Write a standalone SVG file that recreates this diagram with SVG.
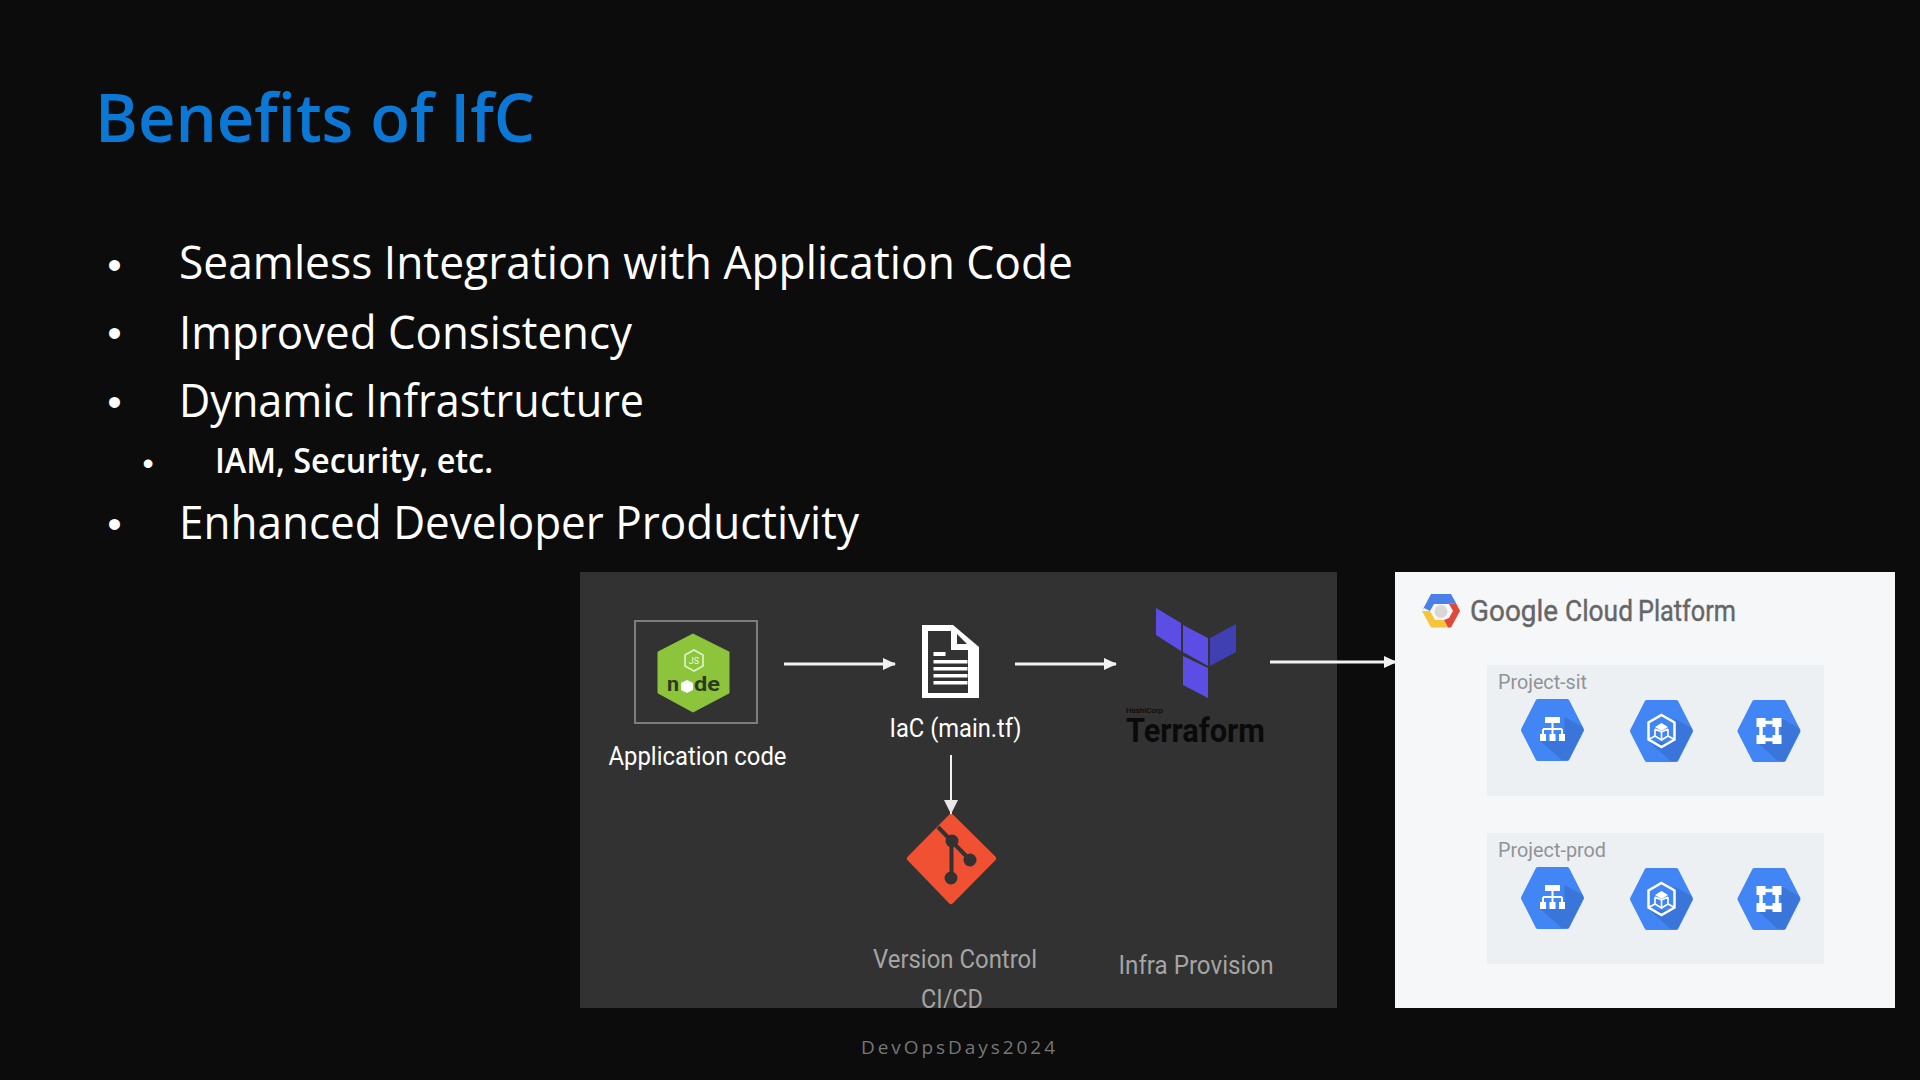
<svg xmlns="http://www.w3.org/2000/svg" xmlns:xlink="http://www.w3.org/1999/xlink" width="1920" height="1080" viewBox="0 0 1920 1080">
<style>
.sans{font-family:"Open Sans","Noto Sans",sans-serif}
.rb{font-family:Roboto,"Liberation Sans",sans-serif}
.bul{font-family:"Open Sans","Noto Sans",sans-serif;font-size:46px;fill:#fff}
.dot{font-family:"Liberation Sans",sans-serif;fill:#fff;text-anchor:middle}
.lab{font-family:Roboto,"Liberation Sans",sans-serif;font-size:25px;fill:#fff}
.gray{fill:#a4a4a4}
.conn{stroke:#f2f2f2;stroke-width:3;fill:none}
.proj{fill:#ecf0f3}
.plab{font-family:Roboto,"Liberation Sans",sans-serif;font-size:20px;fill:#919398}
.w{fill:#fff}
.ws{fill:none;stroke:#fff}
</style>
<defs>
<marker id="ah" markerUnits="userSpaceOnUse" markerWidth="14" markerHeight="14" refX="12" refY="7" orient="auto"><path d="M0 1 L13 7 L0 13 Z" fill="#f2f2f2"/></marker>
<marker id="ahd" markerUnits="userSpaceOnUse" markerWidth="14" markerHeight="16" refX="14" refY="7" orient="auto"><path d="M0 0 L14 7 L0 14 Z" fill="#e8e8e8"/></marker>
<clipPath id="panelClip"><rect x="580" y="572" width="757" height="436"/></clipPath>
<g id="hexBase">
<polygon points="-29,0 -14.5,-28.5 14.5,-28.5 29,0 14.5,28.5 -14.5,28.5" fill="#4285f4" stroke="#4285f4" stroke-width="5" stroke-linejoin="round"/>
<polygon points="12,-13 30,-3 31,0 16,30 9,30 -12,11 12,11" fill="#3a76d9"/>
</g>
<g id="iconTree">
<use xlink:href="#hexBase" href="#hexBase"/>
<rect class="w" x="-7.5" y="-13" width="15" height="6"/>
<path d="M0 -7V5M-9.5 -1H9.5M-9.5 -1V5M9.5 -1V5" class="ws" stroke-width="2"/>
<rect class="w" x="-12.5" y="4" width="6" height="7"/><rect class="w" x="-3" y="4" width="6" height="7"/><rect class="w" x="6.5" y="4" width="6" height="7"/>
</g>
<g id="iconCube">
<use xlink:href="#hexBase" href="#hexBase"/>
<polygon points="0,-16 13,-8.5 13,8.5 0,16 -13,8.5 -13,-8.5" class="ws" stroke-width="2.5"/>
<polygon class="w" points="0,-8 6.5,-4 0,0 -6.5,-4"/>
<path d="M-6.5 -2V5L0 9V1L-6.5 -2M6.5 -2V5L0 9M6.5 -2L0 1M-13 8.5L-6.5 5M13 8.5L6.5 5" class="ws" stroke-width="1.6"/>
</g>
<g id="iconNet">
<use xlink:href="#hexBase" href="#hexBase"/>
<path d="M-8 -8.5H8V8.5H-8Z" class="ws" stroke-width="3.5"/>
<rect class="w" x="-12.5" y="-13" width="9" height="9"/><rect class="w" x="3.5" y="-13" width="9" height="9"/><rect class="w" x="-12.5" y="4" width="9" height="9"/><rect class="w" x="3.5" y="4" width="9" height="9"/>
</g>
</defs>
<rect id="background" width="1920" height="1080" fill="#0c0c0c"/>
<g id="title"><text class="sans" x="95" y="142" font-size="67" font-weight="600" fill="#0a78d4" textLength="440" lengthAdjust="spacingAndGlyphs">Benefits of IfC</text></g>
<g id="bullets">
<text class="dot" x="114.5" y="279" font-size="40">•</text>
<text class="bul" x="179" y="279" textLength="894" lengthAdjust="spacingAndGlyphs">Seamless Integration with Application Code</text>
<text class="dot" x="114.5" y="347" font-size="40">•</text>
<text class="bul" x="179" y="349" textLength="453" lengthAdjust="spacingAndGlyphs">Improved Consistency</text>
<text class="dot" x="114.5" y="416" font-size="40">•</text>
<text class="bul" x="179" y="417" textLength="465" lengthAdjust="spacingAndGlyphs">Dynamic Infrastructure</text>
<text class="dot" x="148" y="474" font-size="32">•</text>
<text class="sans" x="215" y="473" font-size="35" font-weight="600" fill="#fff" textLength="278" lengthAdjust="spacingAndGlyphs">IAM, Security, etc.</text>
<text class="dot" x="114.5" y="538" font-size="40">•</text>
<text class="bul" x="179" y="539" textLength="680" lengthAdjust="spacingAndGlyphs">Enhanced Developer Productivity</text>
</g>
<rect id="pipelinePanel" x="580" y="572" width="757" height="436" fill="#323232"/>
<g id="gcpPanel">
<rect x="1395" y="572" width="500" height="436" fill="#f6f7f8"/>
<g id="gcpLogo">
<polygon points="1422,611 1431,594 1451,594 1456,603 1449,604 1434,604 1430,611 1424,608" fill="#4a80e8"/>
<polygon points="1422,611 1430,611 1435,620 1444,620 1448,627.5 1431,627.5" fill="#f8c43a"/>
<polygon points="1460,611 1451,627.5 1448,627.5 1444,620 1449,618 1453,611 1449,604 1456,603" fill="#dd4a3c"/>
<circle cx="1441" cy="611.5" r="6.5" fill="#d8d8d8"/>
<text class="rb" y="621" font-size="29" fill="#666" stroke="#666" stroke-width="0.4"><tspan x="1470" textLength="88" lengthAdjust="spacingAndGlyphs">Google</tspan><tspan x="1565" textLength="68" lengthAdjust="spacingAndGlyphs">Cloud</tspan><tspan x="1638" textLength="98" lengthAdjust="spacingAndGlyphs">Platform</tspan></text>
</g>
</g>
<g id="project-sit">
<rect class="proj" x="1487" y="665" width="337" height="131"/>
<text class="plab" x="1498" y="689" textLength="89" lengthAdjust="spacingAndGlyphs">Project-sit</text>
<use xlink:href="#iconTree" href="#iconTree" x="1552.5" y="730"/>
<use xlink:href="#iconCube" href="#iconCube" x="1661.5" y="731"/>
<use xlink:href="#iconNet" href="#iconNet" x="1769" y="731"/>
</g>
<g id="project-prod">
<rect class="proj" x="1487" y="833" width="337" height="131"/>
<text class="plab" x="1498" y="857" textLength="108" lengthAdjust="spacingAndGlyphs">Project-prod</text>
<use xlink:href="#iconTree" href="#iconTree" x="1552.5" y="898"/>
<use xlink:href="#iconCube" href="#iconCube" x="1661.5" y="899"/>
<use xlink:href="#iconNet" href="#iconNet" x="1769" y="899"/>
</g>
<g id="application-code">
<rect x="635" y="621" width="122" height="102" fill="none" stroke="#7d7d7d" stroke-width="2"/>
<polygon points="693,634 729,652 729,693 693,712 658,693 658,652" fill="#8cc43c" stroke="#8cc43c" stroke-linejoin="round"/>
<polygon points="694,650 703,655 703,666 694,671 685,666 685,655" fill="none" stroke="#e2f3c8" stroke-width="1.6"/>
<text x="694" y="664" font-family="Roboto,sans-serif" font-size="9" fill="#eef8df" text-anchor="middle">JS</text>
<text x="667" y="691" font-family="Roboto,sans-serif" font-size="21" font-weight="700" fill="#2e3a20" textLength="12" lengthAdjust="spacingAndGlyphs">n</text>
<polygon points="687,680 693,683 693,690 687,693 681,690 681,683" fill="#fff"/>
<text x="694" y="691" font-family="Roboto,sans-serif" font-size="21" font-weight="700" fill="#2e3a20" textLength="26" lengthAdjust="spacingAndGlyphs">de</text>
<text class="lab" x="608.5" y="765" textLength="178" lengthAdjust="spacingAndGlyphs">Application code</text>
</g>
<g id="iac">
<path d="M922 625H953L979 647V698H922Z" class="w"/>
<path d="M928 631H951V650H968V693H928Z" fill="#323232"/>
<path d="M957 634V644H967Z" fill="#323232"/>
<rect class="w" x="933.5" y="652" width="12" height="4"/>
<rect class="w" x="933.5" y="660" width="34" height="3.5"/>
<rect class="w" x="933.5" y="667" width="34" height="3.5"/>
<rect class="w" x="933.5" y="674" width="34" height="3.5"/>
<rect class="w" x="933.5" y="681" width="34" height="3.5"/>
<text class="lab" x="889.5" y="737" textLength="132" lengthAdjust="spacingAndGlyphs">IaC (main.tf)</text>
</g>
<g id="terraform">
<polygon points="1156,608 1181,623 1181,651 1156,635" fill="#5c4ee5"/>
<polygon points="1183,625 1208,638 1208,666 1183,652" fill="#5c4ee5"/>
<polygon points="1210,638 1236,624 1236,652 1210,666" fill="#4040b2"/>
<polygon points="1183,656 1208,668 1208,698 1183,685" fill="#5c4ee5"/>
<text x="1126" y="713" font-family="Roboto,sans-serif" font-size="8" font-weight="500" fill="#0a0a0a" textLength="37" lengthAdjust="spacingAndGlyphs">HashiCorp</text>
<text x="1126" y="742" font-family="Roboto,sans-serif" font-size="33" font-weight="700" fill="#0a0a0a" textLength="139" lengthAdjust="spacingAndGlyphs">Terraform</text>
<text class="lab gray" x="1118.5" y="973.5" textLength="155" lengthAdjust="spacingAndGlyphs">Infra Provision</text>
</g>
<g id="git">
<polygon points="951,817 993,858.5 951,901 910,858.5" fill="#f05133" stroke="#f05133" stroke-width="6" stroke-linejoin="round"/>
<path d="M938 827L970 860M951.5 841V878" fill="none" stroke="#323232" stroke-width="4"/>
<circle cx="952" cy="841" r="6.5" fill="#323232"/><circle cx="970" cy="860" r="6.5" fill="#323232"/><circle cx="951" cy="878" r="6.5" fill="#323232"/>
<g clip-path="url(#panelClip)">
<text class="lab gray" x="873" y="968" textLength="164" lengthAdjust="spacingAndGlyphs">Version Control</text>
<text class="lab gray" x="921" y="1008" textLength="62" lengthAdjust="spacingAndGlyphs">CI/CD</text>
</g>
</g>
<g id="connectors">
<path class="conn" d="M784 664H895" marker-end="url(#ah)"/>
<path class="conn" d="M1015 664H1116" marker-end="url(#ah)"/>
<path class="conn" d="M1270 662H1396" marker-end="url(#ah)"/>
<path d="M951 755V814" stroke="#f2f2f2" stroke-width="2" fill="none" marker-end="url(#ahd)"/>
</g>
<g id="footer"><text x="861" y="1054" font-family="Open Sans,sans-serif" font-size="19" fill="#767676" textLength="194">DevOpsDays2024</text></g>
</svg>
